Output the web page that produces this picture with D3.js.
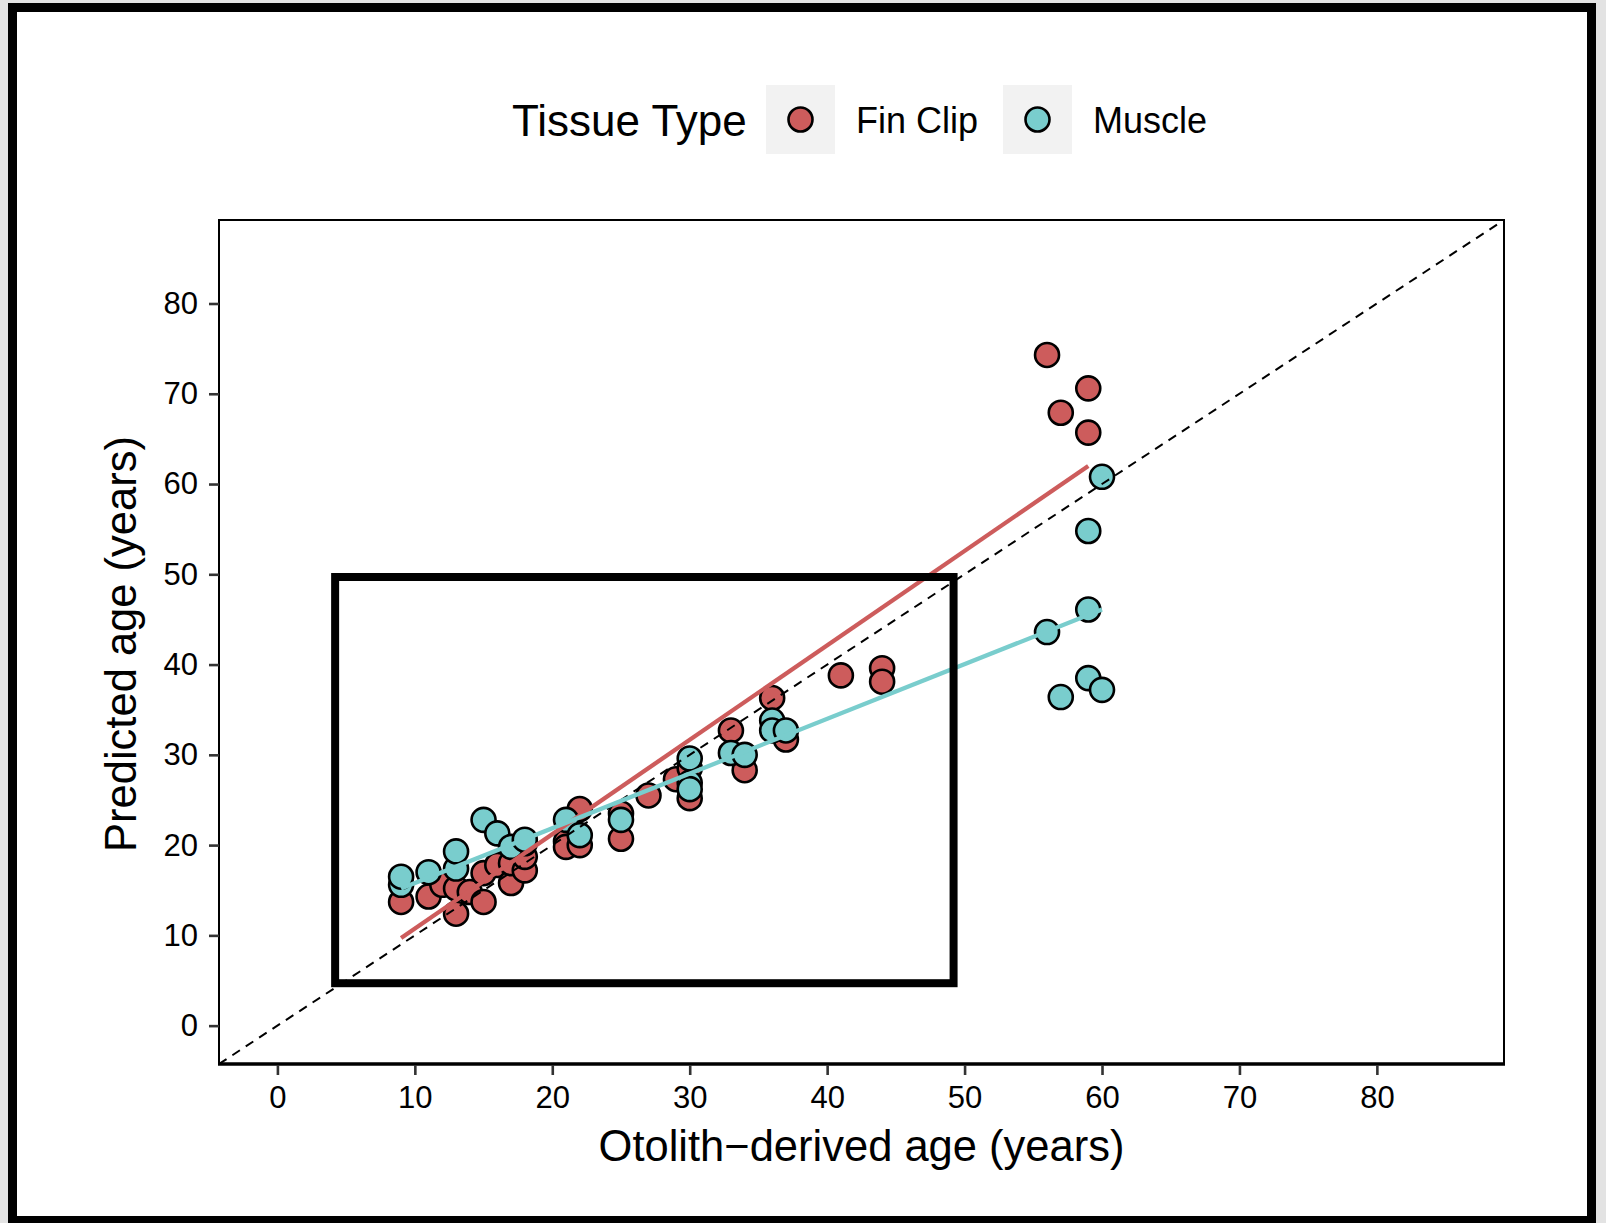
<!DOCTYPE html>
<html>
<head>
<meta charset="utf-8">
<script src="https://cdn.jsdelivr.net/npm/d3@7"></script>
<style>
  html, body { margin: 0; padding: 0; background: #e3e3e3; }
  svg { display: block; font-family: "Liberation Sans", Arial, sans-serif; }
</style>
</head>
<body>
<svg id="chart" width="1606" height="1223"></svg>
<script>
// otolith-derived age vs predicted age, by tissue type
const finClipAge  = [9, 11, 12, 13, 13, 14, 15, 15, 16, 17, 17, 18, 18, 18, 21, 21, 22, 22, 25, 25, 27, 29, 30, 30, 33, 34, 36, 37, 41, 44, 44, 56, 57, 59, 59];
const finClipPred = [13.7, 14.3, 15.6, 12.4, 15.2, 14.8, 13.7, 16.9, 17.8, 15.8, 18.0, 17.2, 18.7, 20.2, 20.4, 19.8, 24.0, 20.0, 23.5, 20.7, 25.5, 27.3, 28.5, 25.2, 32.7, 28.3, 36.3, 31.7, 38.8, 39.6, 38.1, 74.3, 67.9, 70.6, 65.7];

const muscleAge  = [9, 9, 11, 13, 13, 15, 16, 17, 18, 21, 22, 25, 30, 30, 30, 33, 34, 36, 36, 37, 56, 57, 59, 59, 59, 60, 60];
const musclePred = [15.6, 16.5, 17.0, 17.4, 19.3, 22.8, 21.3, 19.8, 20.6, 22.8, 21.1, 22.8, 29.6, 26.9, 26.2, 30.2, 30.0, 33.8, 32.7, 32.7, 43.6, 36.4, 54.8, 46.1, 38.5, 60.8, 37.2];

// linear fit end points
const finFitAge  = [9, 59];
const finFitPred = [9.7, 62.0];
const muscleFitAge  = [9, 60];
const muscleFitPred = [15.2, 46.1];

// highlight box drawn over the panel
const boxAge  = [4.2, 49.2];
const boxPred = [4.7, 49.7];

const axisTicks = [0, 10, 20, 30, 40, 50, 60, 70, 80];
const limits = [-4.25, 89.25];

const tissueTypes  = ["Fin Clip", "Muscle"];
const tissueColors = ["#CD5C5C", "#79CDCD"];

const svg = d3.select("#chart");
const W = 1606, H = 1223;
const panel = {left: 219, right: 1504, top: 220, bottom: 1064};
const pointR = 12;

// page background + black frame
svg.append("rect").attr("x", 0).attr("y", 0).attr("width", W).attr("height", H).attr("fill", "#e3e3e3");
svg.append("rect")
    .attr("x", 12.5).attr("y", 7.5)
    .attr("width", 1579).attr("height", 1213)
    .attr("fill", "#fff")
    .attr("stroke", "#000")
    .attr("stroke-width", 9);

const x = d3.scaleLinear().domain(limits).range([panel.left, panel.right]);
const y = d3.scaleLinear().domain(limits).range([panel.bottom, panel.top]);
const color = d3.scaleOrdinal().domain(tissueTypes).range(tissueColors);

const clip = svg.append("defs").append("clipPath").attr("id", "panel-clip");
clip.append("rect")
    .attr("x", panel.left).attr("y", panel.top)
    .attr("width", panel.right - panel.left).attr("height", panel.bottom - panel.top);

const g = svg.append("g").attr("clip-path", "url(#panel-clip)");

// points
function drawPoints(ages, preds, type) {
  g.append("g").selectAll("circle")
      .data(ages.map((a, i) => ({age: a, pred: preds[i]})))
      .enter().append("circle")
      .attr("cx", d => x(d.age))
      .attr("cy", d => y(d.pred))
      .attr("r", pointR)
      .attr("fill", color(type))
      .attr("stroke", "#000")
      .attr("stroke-width", 2.6);
}
drawPoints(finClipAge, finClipPred, "Fin Clip");
drawPoints(muscleAge, musclePred, "Muscle");

// 1:1 line
g.append("line")
    .attr("x1", x(limits[0])).attr("y1", y(limits[0]))
    .attr("x2", x(limits[1])).attr("y2", y(limits[1]))
    .attr("stroke", "#000")
    .attr("stroke-width", 2)
    .attr("stroke-dasharray", "9,7");

// fitted lines
const line = d3.line().x(d => x(d[0])).y(d => y(d[1]));
g.append("path")
    .attr("d", line(finFitAge.map((a, i) => [a, finFitPred[i]])))
    .attr("stroke", color("Fin Clip")).attr("stroke-width", 4.3).attr("fill", "none");
g.append("path")
    .attr("d", line(muscleFitAge.map((a, i) => [a, muscleFitPred[i]])))
    .attr("stroke", color("Muscle")).attr("stroke-width", 4.3).attr("fill", "none");

// panel border
svg.append("rect")
    .attr("x", panel.left).attr("y", panel.top)
    .attr("width", panel.right - panel.left).attr("height", panel.bottom - panel.top)
    .attr("fill", "none").attr("stroke", "#000").attr("stroke-width", 2);
svg.append("line")
    .attr("x1", panel.left - 1).attr("x2", panel.right + 1)
    .attr("y1", panel.bottom).attr("y2", panel.bottom)
    .attr("stroke", "#000").attr("stroke-width", 3.5);

// axes
const xAxis = svg.append("g")
    .attr("transform", "translate(0," + (panel.bottom + 1) + ")")
    .call(d3.axisBottom(x).tickValues(axisTicks).tickSize(10).tickPadding(11));
const yAxis = svg.append("g")
    .attr("transform", "translate(" + panel.left + ",0)")
    .call(d3.axisLeft(y).tickValues(axisTicks).tickSize(10).tickPadding(11));

[xAxis, yAxis].forEach(ax => {
  ax.select(".domain").remove();
  ax.selectAll(".tick line").attr("stroke", "#333").attr("stroke-width", 2.6);
  ax.selectAll(".tick text")
      .attr("fill", "#000")
      .style("font-size", "31px")
      .style("font-family", "'Liberation Sans', Arial, sans-serif");
});

// axis titles
svg.append("text")
    .attr("x", (panel.left + panel.right) / 2)
    .attr("y", 1161)
    .attr("text-anchor", "middle")
    .style("font-size", "43.5px")
    .text("Otolith\u2212derived age (years)");

svg.append("text")
    .attr("transform", "translate(136," + ((panel.top + panel.bottom) / 2 + 2) + ")rotate(-90)")
    .attr("text-anchor", "middle")
    .style("font-size", "43.5px")
    .text("Predicted age (years)");

// highlight box
svg.append("rect")
    .attr("x", x(boxAge[0])).attr("y", y(boxPred[1]))
    .attr("width", x(boxAge[1]) - x(boxAge[0]))
    .attr("height", y(boxPred[0]) - y(boxPred[1]))
    .attr("fill", "none")
    .attr("stroke", "#000")
    .attr("stroke-width", 8);

// legend
const legend = svg.append("g");
legend.append("text")
    .attr("x", 512).attr("y", 136)
    .style("font-size", "44px")
    .text("Tissue Type");

const keyX = [766, 1003];
tissueTypes.forEach((t, i) => {
  legend.append("rect")
      .attr("x", keyX[i]).attr("y", 85)
      .attr("width", 69).attr("height", 69)
      .attr("fill", "#f2f2f2");
  legend.append("circle")
      .attr("cx", keyX[i] + 34.5).attr("cy", 119.5)
      .attr("r", pointR)
      .attr("fill", color(t))
      .attr("stroke", "#000")
      .attr("stroke-width", 2.6);
  legend.append("text")
      .attr("x", keyX[i] + 90).attr("y", 132.5)
      .style("font-size", "36px")
      .text(t);
});
</script>
</body>
</html>
